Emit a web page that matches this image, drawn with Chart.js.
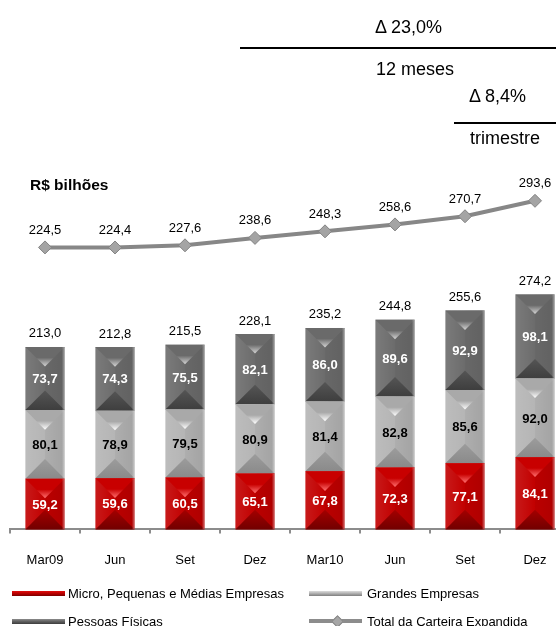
<!DOCTYPE html>
<html>
<head>
<meta charset="utf-8">
<script src="https://cdn.jsdelivr.net/npm/chart.js@4.4.1/dist/chart.umd.min.js"></script>
<style>
  html, body { margin: 0; padding: 0; background: #fff; overflow: hidden; }
  #wrap { position: relative; width: 556px; height: 626px; overflow: hidden;
          font-family: 'Liberation Sans', Arial, sans-serif; color: #000; }
  #grafico { position: absolute; left: 0; top: 0; }
  .txt { position: absolute; white-space: nowrap; line-height: 1; }
  .big { font-size: 18px; }
  .leg { font-size: 13px; }
  .hr { position: absolute; height: 2px; background: #000; }
  .sym { position: absolute; width: 53px; height: 5px; }
</style>
</head>
<body>
<div id="wrap">
  <canvas id="grafico" width="580" height="626"></canvas>

  <div class="txt big" style="left:375px; top:18px;">&Delta; 23,0%</div>
  <div class="hr" style="left:240px; top:47px; width:316px;"></div>
  <div class="txt big" style="left:376px; top:60px;">12 meses</div>
  <div class="txt big" style="left:469px; top:87px;">&Delta; 8,4%</div>
  <div class="hr" style="left:454px; top:122px; width:102px;"></div>
  <div class="txt big" style="left:470px; top:129px;">trimestre</div>

  <div class="txt" style="left:30px; top:177px; font-size:15.5px; font-weight:bold;">R$ bilhões</div>

  <!-- legenda -->
  <div class="sym" style="left:12px; top:591px; background:linear-gradient(#e01010,#c00000 45%,#7a0000);"></div>
  <div class="txt leg" style="left:68px; top:587px;">Micro, Pequenas e Médias Empresas</div>
  <div class="sym" style="left:309px; top:591px; background:linear-gradient(#dcdcdc,#b4b4b4 45%,#7e7e7e);"></div>
  <div class="txt leg" style="left:367px; top:587px;">Grandes Empresas</div>
  <div class="sym" style="left:12px; top:619px; background:linear-gradient(#8c8c8c,#636363 45%,#3c3c3c);"></div>
  <div class="txt leg" style="left:68px; top:615px;">Pessoas Físicas</div>
  <div class="sym" style="left:309px; top:619px; height:4px; background:#8c8c8c;"></div>
  <div style="position:absolute; left:333px; top:617px; width:7px; height:7px; background:#a6a6a6; border:1px solid #858585; transform:rotate(45deg);"></div>
  <div class="txt leg" style="left:367px; top:615px;">Total da Carteira Expandida</div>
</div>

<script>
// dados (R$ bilhões)
const periodos = ["Mar09", "Jun", "Set", "Dez", "Mar10", "Jun", "Set", "Dez"];
const micro = [59.2, 59.6, 60.5, 65.1, 67.8, 72.3, 77.1, 84.1];
const grandes = [80.1, 78.9, 79.5, 80.9, 81.4, 82.8, 85.6, 92.0];
const pessoas = [73.7, 74.3, 75.5, 82.1, 86.0, 89.6, 92.9, 98.1];
const totalBarras = [213.0, 212.8, 215.5, 228.1, 235.2, 244.8, 255.6, 274.2];
const totalExpandida = [224.5, 224.4, 227.6, 238.6, 248.3, 258.6, 270.7, 293.6];

const fonte = "'Liberation Sans', Arial, sans-serif";
Chart.defaults.font.family = fonte;

function fmt(v) {
  return v.toFixed(1).replace(".", ",");
}

// cores do efeito "pirâmide" de cada série
const estilos = [
  { lado: "#c20000", topo: "#c80000", brilho: "#ff7070", baixo1: "#a40000", baixo2: "#720000", texto: "#fff" },
  { lado: "#b5b5b5", topo: "#a9a9a9", brilho: "#ffffff", baixo1: "#9c9c9c", baixo2: "#8a8a8a", texto: "#000" },
  { lado: "#6c6c6c", topo: "#6a6a6a", brilho: "#d6d6d6", baixo1: "#555555", baixo2: "#3e3e3e", texto: "#fff" }
];

const bisel = {
  id: "bisel",
  afterDatasetDraw(chart, args) {
    const est = estilos[args.index];
    if (!est || args.meta.type !== "bar") return;
    const ctx = chart.ctx;
    ctx.save();
    args.meta.data.forEach(function (bar) {
      const w = bar.width;
      const esq = bar.x - w / 2, dir = bar.x + w / 2;
      const topo = Math.min(bar.y, bar.base), baixo = Math.max(bar.y, bar.base);
      const b = Math.min(w / 2, (baixo - topo) / 2);

      // laterais: esquerda um pouco mais clara que a direita
      let g = ctx.createLinearGradient(esq, 0, dir, 0);
      g.addColorStop(0, "rgba(255,255,255,0.10)");
      g.addColorStop(0.5, "rgba(255,255,255,0)");
      g.addColorStop(0.5, "rgba(0,0,0,0.04)");
      g.addColorStop(1, "rgba(0,0,0,0.10)");
      ctx.fillStyle = g;
      ctx.fillRect(esq, topo, w, baixo - topo);

      // triângulo de cima
      g = ctx.createLinearGradient(0, topo, 0, topo + b);
      g.addColorStop(0, est.topo);
      g.addColorStop(0.55, est.topo);
      g.addColorStop(1, est.brilho);
      ctx.fillStyle = g;
      ctx.beginPath();
      ctx.moveTo(esq, topo);
      ctx.lineTo(dir, topo);
      ctx.lineTo(bar.x, topo + b);
      ctx.closePath();
      ctx.fill();

      // triângulo de baixo
      g = ctx.createLinearGradient(0, baixo - b, 0, baixo);
      g.addColorStop(0, est.baixo1);
      g.addColorStop(1, est.baixo2);
      ctx.fillStyle = g;
      ctx.beginPath();
      ctx.moveTo(esq, baixo);
      ctx.lineTo(dir, baixo);
      ctx.lineTo(bar.x, baixo - b);
      ctx.closePath();
      ctx.fill();

      // borda direita mais clara
      ctx.fillStyle = "rgba(255,255,255,0.25)";
      ctx.fillRect(dir - 2, topo, 2, baixo - topo);
    });
    ctx.restore();
  }
};

const rotulos = {
  id: "rotulos",
  afterDatasetsDraw(chart) {
    const ctx = chart.ctx;
    ctx.save();
    ctx.textAlign = "center";
    ctx.textBaseline = "middle";

    // valores dentro das barras
    ctx.font = "bold 13px " + fonte;
    [0, 1, 2].forEach(function (i) {
      const meta = chart.getDatasetMeta(i);
      meta.data.forEach(function (bar, j) {
        ctx.fillStyle = estilos[i].texto;
        ctx.fillText(fmt(chart.data.datasets[i].data[j]), bar.x, (bar.y + bar.base) / 2 + 1);
      });
    });

    // totais acima das barras
    ctx.font = "13px " + fonte;
    ctx.fillStyle = "#000";
    chart.getDatasetMeta(2).data.forEach(function (bar, j) {
      ctx.fillText(fmt(totalBarras[j]), bar.x, bar.y - 13);
    });

    // valores da linha
    chart.getDatasetMeta(3).data.forEach(function (pt, j) {
      ctx.fillText(fmt(totalExpandida[j]), pt.x, pt.y - 17);
    });
    ctx.restore();
  }
};

new Chart(document.getElementById("grafico"), {
  data: {
    labels: periodos,
    datasets: [
      { type: "bar", label: "Micro, Pequenas e Médias Empresas", data: micro, backgroundColor: estilos[0].lado, yAxisID: "y", order: 2 },
      { type: "bar", label: "Grandes Empresas", data: grandes, backgroundColor: estilos[1].lado, yAxisID: "y", order: 2 },
      { type: "bar", label: "Pessoas Físicas", data: pessoas, backgroundColor: estilos[2].lado, yAxisID: "y", order: 2 },
      {
        type: "line", label: "Total da Carteira Expandida", data: totalExpandida, yAxisID: "y2", order: 1,
        borderColor: "#878787", borderWidth: 4, tension: 0,
        pointStyle: "rectRot", pointRadius: 6.5, pointBackgroundColor: "#a4a4a4",
        pointBorderColor: "#838383", pointBorderWidth: 1
      }
    ]
  },
  options: {
    responsive: false,
    animation: false,
    layout: { padding: { left: 10, right: 10, top: 150, bottom: 39 } },
    datasets: { bar: { barPercentage: 0.56, categoryPercentage: 1 } },
    plugins: { legend: { display: false }, tooltip: { enabled: false } },
    scales: {
      x: {
        stacked: true,
        offset: true,
        grid: { offset: true, drawOnChartArea: false, drawTicks: true, tickLength: 4, color: "#8c8c8c", lineWidth: 2 },
        border: { display: true, color: "#8c8c8c", width: 2 },
        ticks: { color: "#000", font: { size: 13 }, padding: 19 }
      },
      y: { stacked: true, display: false, min: 0, max: 442.8 },
      y2: { display: false, min: -193.5, max: 368.9 }
    }
  },
  plugins: [bisel, rotulos]
});
</script>
</body>
</html>
